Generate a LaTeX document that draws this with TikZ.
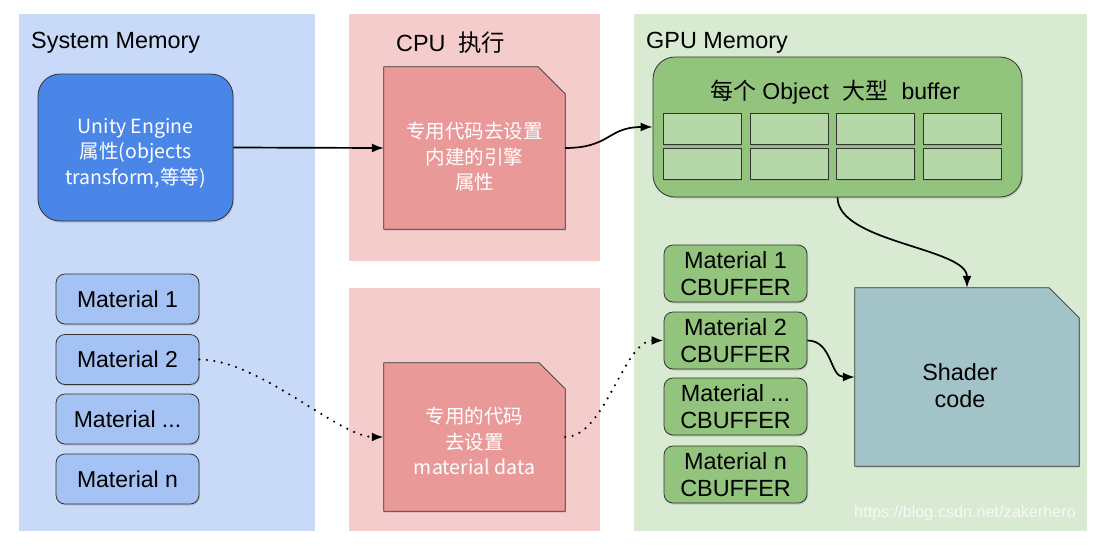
\documentclass[tikz,border=0pt]{standalone}
\usepackage{fontspec}
\setmainfont{Liberation Sans}
\newfontfamily\cjk{Noto Sans CJK SC}
\usetikzlibrary{arrows.meta,shadows}

\definecolor{sysbg}{HTML}{C9DAF8}
\definecolor{cpubg}{HTML}{F4CCCC}
\definecolor{gpubg}{HTML}{D9EAD3}
\definecolor{unityfill}{HTML}{4A86E8}
\definecolor{matfill}{HTML}{A4C2F4}
\definecolor{cpufill}{HTML}{EA9999}
\definecolor{gpufill}{HTML}{93C47D}
\definecolor{cellfill}{HTML}{B6D7A8}
\definecolor{shaderfill}{HTML}{A2C4C9}
\definecolor{boxline}{HTML}{333333}

\pgfdeclarelayer{panel}
\pgfdeclarelayer{shape}
\pgfsetlayers{panel,shape,main}

% box with a clipped top-right corner, drawn behind the node that names it
\newcommand\cutcorner[3]{%
  \begin{pgfonlayer}{shape}
    \draw[boxline style, fill=#3]
      (#1.south west) -- (#1.north west) -- ([xshift=-#2]#1.north east)
      -- ([yshift=-#2]#1.north east) -- (#1.south east) -- cycle;
  \end{pgfonlayer}}

\begin{document}
\begin{tikzpicture}[x=1pt,y=-1pt,
  boxline style/.style={draw=boxline, line width=0.8pt,
    drop shadow={opacity=0.3, shadow xshift=1pt, shadow yshift=-1.5pt}},
  title/.style={anchor=west, inner sep=0pt, font=\fontsize{23.4}{28}\selectfont},
  frame/.style={inner sep=0pt, draw=none, fill=none},
  wlabel/.style={inner sep=0pt, align=center, text=white,
    font=\cjk\fontsize{19.5}{25.5}\selectfont},
  leftmat/.style={boxline style, fill=matfill, rounded corners=9pt,
    minimum width=143pt, minimum height=50pt, inner sep=0pt,
    font=\fontsize{23}{27}\selectfont},
  gpumat/.style={boxline style, fill=gpufill, rounded corners=9pt,
    minimum width=143pt, minimum height=57pt, inner sep=0pt, align=center,
    font=\fontsize{23.4}{26.5}\selectfont},
  cell/.style={boxline style, fill=cellfill, minimum width=78pt,
    minimum height=31pt, inner sep=0pt},
  conn/.style={line width=1.7pt, -{Latex[length=12pt,width=9pt]}},
  dotconn/.style={conn, line width=2.4pt, line cap=round,
    dash pattern=on 0pt off 7.5pt}
]
\useasboundingbox (0,0) rectangle (1110,555);

% memory / execution regions
\begin{pgfonlayer}{panel}
  \fill[white] (0,0) rectangle (1110,555);
  \fill[sysbg] (19,14) rectangle (315,531);
  \fill[cpubg] (349,14) rectangle (600,261);
  \fill[cpubg] (349,288) rectangle (600,531);
  \fill[gpubg] (634,14) rectangle (1087,531);
\end{pgfonlayer}

\node[title] (systitle) at (31,42.5) {System Memory};
\node[title] (cputitle) at (396,42.5) {CPU\hspace{0.55em}{\cjk 执行}};
\node[title] (gputitle) at (646,42.5) {GPU Memory};

% system memory
\node[boxline style, fill=unityfill, rounded corners=22pt,
  minimum width=195pt, minimum height=147pt] (unity) at (135.5,147.5) {};
\node[wlabel] (unitytxt) at (135.5,153) {Unity Engine\\属性(objects\\transform,等等)};

\node[leftmat] (lm1) at (127.5,299) {Material 1};
\node[leftmat] (lm2) at (127.5,359.5) {Material 2};
\node[leftmat] (lm3) at (127.5,419) {Material ...};
\node[leftmat] (lm4) at (127.5,479) {Material n};

% CPU side
\node[frame, minimum width=181pt, minimum height=162pt] (cpu1) at (474.5,148) {};
\cutcorner{cpu1}{27pt}{cpufill}
\node[wlabel] (cpu1txt) at (474.5,157) {专用代码去设置\\内建的引擎\\属性};

\node[frame, minimum width=181pt, minimum height=148pt] (cpu2) at (474.5,437) {};
\cutcorner{cpu2}{26pt}{cpufill}
\node[wlabel] (cpu2txt) at (474.5,441) {专用的代码\\去设置\\material data};

% GPU memory
\node[boxline style, fill=gpufill, rounded corners=22pt,
  minimum width=369pt, minimum height=140pt] (gbuf) at (837.5,127) {};
\node[inner sep=0pt, font=\fontsize{23}{27}\selectfont] (gbuftxt) at (835,92)
  {{\cjk 每个} Object\hspace{0.3em} {\cjk 大型}\hspace{0.3em} buffer};
\foreach \cx [count=\i] in {702,789,875.5,962} {
  \node[cell] (c1\i) at (\cx,128.5) {};
  \node[cell] (c2\i) at (\cx,164) {};
}

\node[gpumat] (gm1) at (735.5,273.5) {Material 1\\CBUFFER};
\node[gpumat] (gm2) at (735.5,340.5) {Material 2\\CBUFFER};
\node[gpumat] (gm3) at (735.5,406.5) {Material ...\\CBUFFER};
\node[gpumat] (gm4) at (735.5,474.5) {Material n\\CBUFFER};

\node[frame, minimum width=224pt, minimum height=178pt] (shader) at (967,377) {};
\cutcorner{shader}{30pt}{shaderfill}
\node[inner sep=0pt, align=center, font=\fontsize{23.4}{27}\selectfont]
  (shadertxt) at (960,386) {Shader\\code};

\node[inner sep=0pt, text=white, opacity=0.75, font=\fontsize{16.2}{19}\selectfont]
  (mark) at (965,513) {https://blog.csdn.net/zakerhero};

% data flow
\draw[conn] (unity.east) -- (cpu1.west);
\draw[conn] (cpu1.east) .. controls +(45,0) and +(-45,0) .. (gbuf.west);
\draw[conn] (gbuf.south) .. controls +(0,45) and +(0,-40) .. (shader.north);
\draw[dotconn] (lm2.east) .. controls +(60,0) and +(-45,0) .. (cpu2.west);
\draw[dotconn] (cpu2.east) .. controls +(40,0) and +(-40,0) .. (gm2.west);
\draw[conn] (gm2.east) .. controls +(25,0) and +(-25,0) .. (shader.west);
\end{tikzpicture}
\end{document}
